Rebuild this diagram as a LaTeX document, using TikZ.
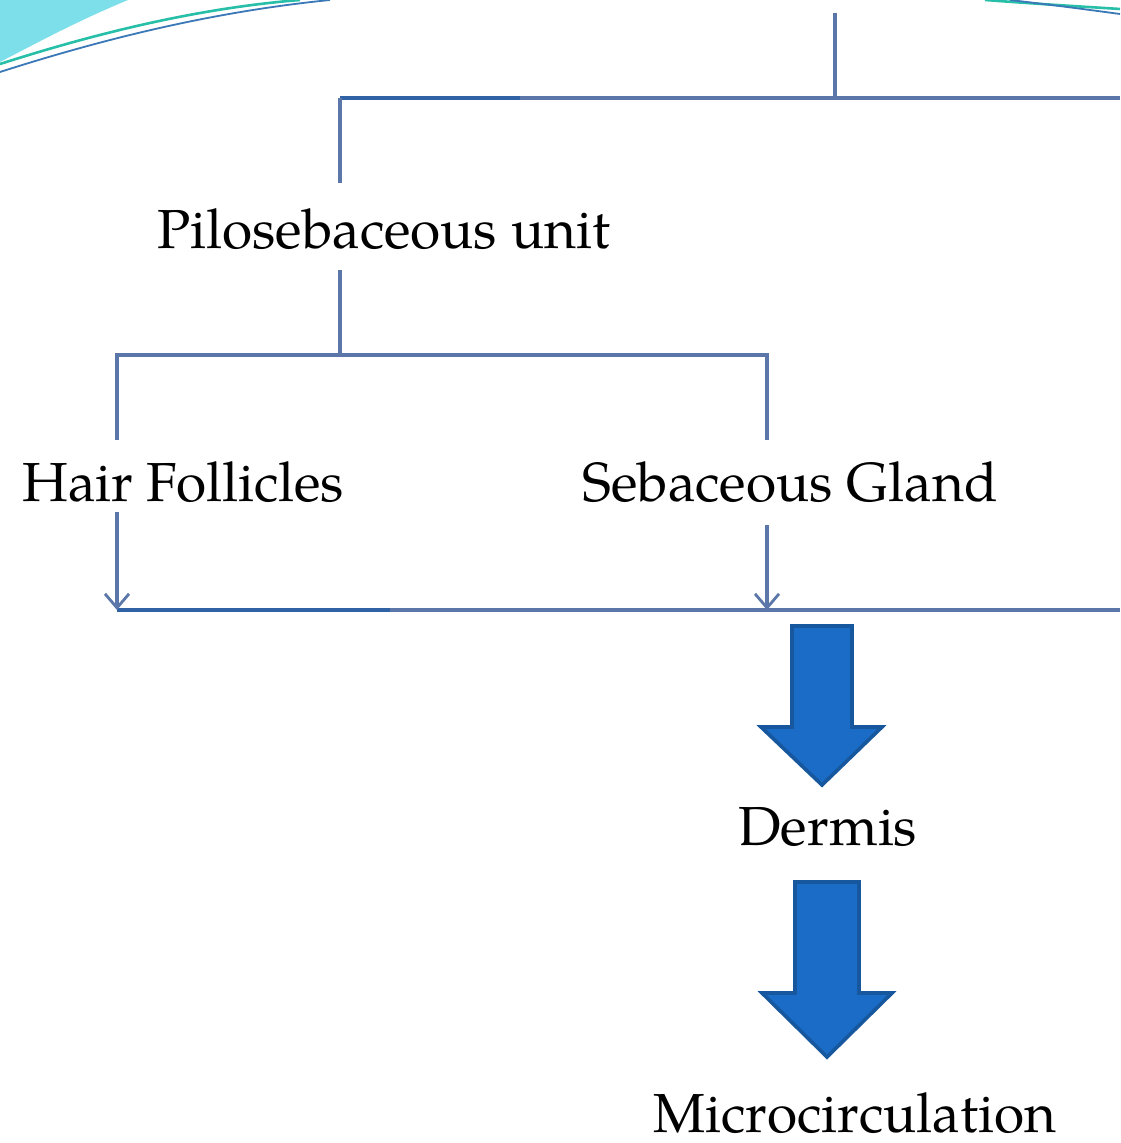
\documentclass[tikz,border=0pt]{standalone}
\usepackage{fontspec}
\setmainfont{TeX Gyre Pagella}
\usetikzlibrary{arrows.meta}
\definecolor{linkblue}{HTML}{5B76A9}
\definecolor{linkdark}{HTML}{2F63A6}
\definecolor{blockfill}{HTML}{1A6CC6}
\definecolor{blockedge}{HTML}{17579E}
\definecolor{swash}{HTML}{7CDFEA}
\definecolor{swashteal}{HTML}{27BFA8}
\definecolor{swashblue}{HTML}{3A78B8}
\begin{document}
\begin{tikzpicture}[x=0.5pt,y=-0.5pt,
  txt/.style={font=\fontsize{27.5}{33}\selectfont, text=black, inner sep=0pt, anchor=base west},
  link/.style={draw=linkblue, line width=1.6pt},
  linkstrong/.style={draw=linkdark, line width=1.6pt},
  flowtip/.style={-{Straight Barb[length=7pt,width=12pt,line width=1.4pt]}},
  bigarrow/.style={fill=blockfill, draw=blockedge, line width=1.8pt, line join=miter}]
\useasboundingbox (0,0) rectangle (1120,1143);
\fill[white] (0,0) rectangle (1120,1143);

% decorative swash in the corners
\fill[swash] (0,0) -- (128,0) .. controls (75,22) and (35,44) .. (0,62) -- cycle;
\draw[swashteal, line width=1.3pt] (0,64) .. controls (100,32) and (200,8) .. (300,0);
\draw[swashblue, line width=0.9pt] (0,72) .. controls (100,40) and (210,12) .. (330,0);
\draw[swashteal, line width=1.3pt] (985,0) .. controls (1040,4) .. (1120,9);
\draw[swashblue, line width=0.9pt] (1010,0) .. controls (1060,6) .. (1120,14);

% labels
\node[txt] (pilo)  at (157,249)  {Pilosebaceous unit};
\node[txt] (hair)  at (22,502)   {Hair Follicles};
\node[txt] (seb)   at (582,502)  {Sebaceous Gland};
\node[txt] (derm)  at (738,845)  {Dermis};
\node[txt] (micro) at (653,1132) {Microcirculation};

% tree junctions
\coordinate (rootend) at (835,13);
\coordinate (rootj)   at (835,98);
\coordinate (busL)    at (340,98);
\coordinate (busM)    at (520,98);
\coordinate (busR)    at (1120,98);
\coordinate (piloin)  at (340,183);
\coordinate (pilout)  at (340,270);
\coordinate (piloj)   at (340,355);
\coordinate (hairin)  at (117,440);
\coordinate (hairbus) at (117,355);
\coordinate (sebbus)  at (767,355);
\coordinate (sebin)   at (767,440);
\coordinate (hairout) at (117,512);
\coordinate (sebout)  at (767,525);
\coordinate (hairdrop) at (117,610);
\coordinate (collM)   at (390,610);
\coordinate (sebdrop) at (767,610);
\coordinate (collR)   at (1120,610);

% connectors
\draw[link] (rootend) -- (rootj);
\draw[link] (busL) -- (busR);
\draw[linkstrong] (busL) -- (busM);
\draw[link] (piloin) -- (busL);
\draw[link] (pilout) -- (piloj);
\draw[link] (hairin) -- (hairbus) -- (sebbus) -- (sebin);
\draw[link] (hairdrop) -- (collR);
\draw[linkstrong] (hairdrop) -- (collM);
\draw[link, flowtip] (hairout) -- (hairdrop);
\draw[link, flowtip] (sebout) -- (sebdrop);

% block arrows
\draw[bigarrow] (792,626) -- (852,626) -- (852,727) -- (882,727) -- (822,785)
  -- (761,727) -- (792,727) -- cycle;
\draw[bigarrow] (795,882) -- (859,882) -- (859,993) -- (892,993) -- (827,1057)
  -- (762,993) -- (795,993) -- cycle;
\end{tikzpicture}
\end{document}
